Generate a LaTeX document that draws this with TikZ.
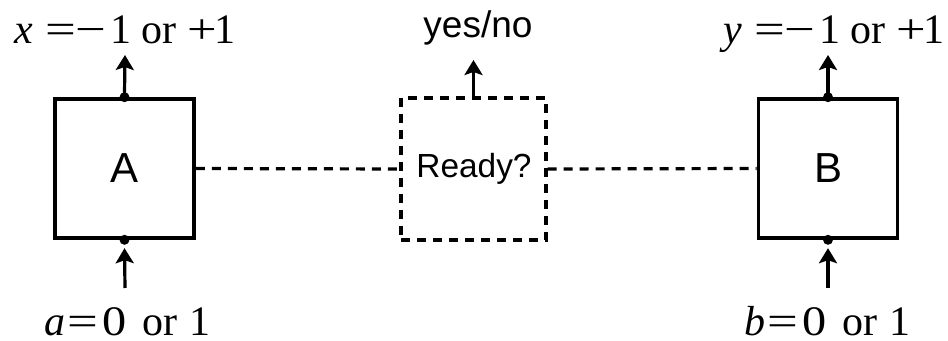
\documentclass[tikz,border=0pt]{standalone}
\usepackage{fontspec}
\usepackage{graphicx}
\setmainfont{Liberation Serif}
\setsansfont{Liberation Sans}
\usetikzlibrary{arrows.meta}
\newcommand{\gl}[1]{\makebox[0pt][c]{#1}}
\newcommand{\wsym}[2][1.3]{\makebox[0pt][c]{\scalebox{#1}[1]{#2}}}
\begin{document}
\begin{tikzpicture}[x=0.5pt,y=-0.5pt,
  solidbox/.style={draw,line width=1.8pt,minimum width=69.5pt,minimum height=69.5pt,inner sep=0pt,font=\sffamily\fontsize{21}{21}\selectfont},
  readybox/.style={draw,line width=1.6pt,dash pattern=on 4.5pt off 3.5pt,minimum width=72.5pt,minimum height=71pt,inner sep=0pt},
  link/.style={line width=1.6pt,dash pattern=on 4.5pt off 3.5pt},
  arr/.style={line width=1.6pt,-{Stealth[length=7.5pt,width=9pt,inset=1.5pt]}},
  lbl/.style={anchor=base west,inner sep=0pt,font=\fontsize{21}{21}\selectfont},
  slbl/.style={anchor=base,inner sep=0pt,font=\sffamily\fontsize{18.5}{18.5}\selectfont},
  dot/.style={circle,fill,inner sep=0pt,minimum size=5pt}]
\useasboundingbox (0,0) rectangle (948,341);
\node[solidbox] (A) at (124.5,168.5) {A};
\node[solidbox] (B) at (828,168.5) {B};
\node[readybox] (R) at (473.5,169) {};
\node[slbl,font=\sffamily\fontsize{16.7}{16.7}\selectfont] (rt) at (474,178) {Ready?};
\node[dot] (At) at (A.north) {};
\node[dot] (Ab) at (A.south) {};
\node[dot] (Bt) at (B.north) {};
\node[dot] (Bb) at (B.south) {};
\node[lbl] (x) at (23,43.5) {\gl{\textit{x}}\hspace{18.5pt}\wsym{=}\hspace{15pt}\wsym[1.3]{−}\hspace{15.25pt}\gl{1}\hspace{19pt}\gl{or}\hspace{21.5pt}\wsym[1.25]{+}\hspace{11.75pt}\gl{1}};
\node[lbl] (y) at (732,43.5) {\gl{\textit{y}}\hspace{18.5pt}\wsym{=}\hspace{15pt}\wsym[1.3]{−}\hspace{15.25pt}\gl{1}\hspace{19pt}\gl{or}\hspace{21.5pt}\wsym[1.25]{+}\hspace{11.75pt}\gl{1}};
\node[lbl] (a) at (55,335.5) {\gl{\textit{a}}\hspace{13.75pt}\wsym{=}\hspace{15.75pt}\wsym[1.15]{0}\hspace{22.75pt}\gl{or}\hspace{20.25pt}\gl{1}};
\node[lbl] (b) at (755,335.5) {\gl{\textit{b}}\hspace{13.75pt}\wsym{=}\hspace{15.75pt}\wsym[1.15]{0}\hspace{22.75pt}\gl{or}\hspace{20.25pt}\gl{1}};
\node[slbl] (yn) at (478,38) {yes/no};
\coordinate (xe) at (125,55);
\coordinate (ye) at (828,55);
\coordinate (as) at (125,288);
\coordinate (bs) at (828,288);
\coordinate (yne) at (473.5,60);
\draw[arr] (At.north) ++(0,-1.5pt) -- (xe);
\draw[arr] (Bt.north) ++(0,-1.5pt) -- (ye);
\draw[arr] (as) -- ([yshift=-1.5pt]Ab.south);
\draw[arr] (bs) -- ([yshift=-1.5pt]Bb.south);
\draw[arr] (R.north) -- (yne);
\draw[link] (A.east) -- (R.west);
\draw[link] (R.east) -- (B.west);
\end{tikzpicture}
\end{document}
